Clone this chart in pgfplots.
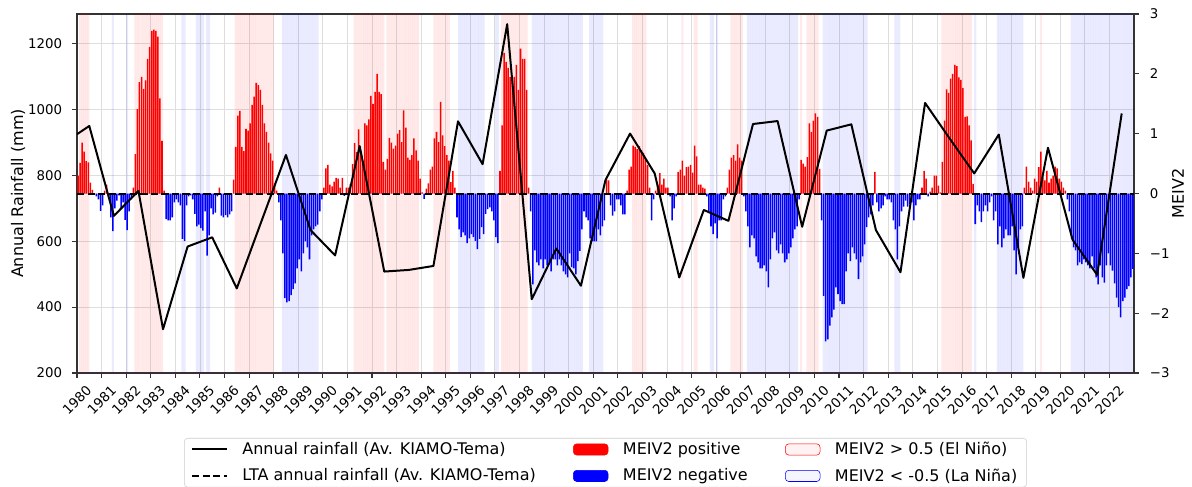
\documentclass[border=0pt]{standalone}
\usepackage{fontspec}
\setmainfont{DejaVu Sans}
\usepackage{pgfplots}
\usepackage{pgfplotstable}
\pgfplotsset{compat=1.18}

\pgfplotstableread{
year m1 m2 m3 m4 m5 m6 m7 m8 m9 m10 m11 m12
1980 0.30 0.51 0.85 0.70 0.54 0.52 0.18 0.06 -0.02 -0.05 -0.10 -0.29
1981 -0.20 0.05 0.15 -0.05 -0.40 -0.63 -0.25 -0.12 -0.03 -0.25 -0.15 -0.44
1982 -0.61 -0.30 -0.10 0.10 0.66 1.41 1.86 1.95 1.75 1.89 2.25 2.45
1983 2.72 2.74 2.72 2.62 1.59 0.88 0.05 -0.43 -0.45 -0.45 -0.40 -0.15
1984 -0.10 -0.15 -0.20 -0.76 -0.79 -0.20 -0.05 -0.03 -0.10 -0.34 -0.55 -0.52
1985 -0.58 -0.62 -0.30 -1.04 -0.70 -0.25 -0.35 -0.32 -0.05 0.10 -0.37 -0.40
1986 -0.36 -0.40 -0.35 -0.30 0.23 0.78 1.30 1.38 0.78 0.71 1.08 1.05
1987 1.17 1.48 1.62 1.85 1.81 1.73 1.48 1.17 1.03 0.85 0.67 0.55
1988 0.16 0.05 -0.15 -0.45 -1.00 -1.75 -1.82 -1.80 -1.70 -1.60 -1.50 -1.25
1989 -1.10 -1.30 -1.00 -0.80 -0.90 -1.10 -0.70 -0.60 -0.55 -0.52 -0.30 -0.10
1990 0.10 0.42 0.48 0.15 0.12 0.20 0.26 0.25 0.10 0.26 -0.04 0.10
1991 0.10 0.16 0.49 0.84 0.69 1.07 0.67 0.55 1.17 1.14 1.24 1.63
1992 1.50 1.70 2.00 1.70 1.66 0.53 0.40 0.58 0.93 0.85 0.75 0.80
1993 1.00 1.06 0.86 1.39 1.10 0.60 0.56 0.64 0.92 0.72 0.55 0.25
1994 0.02 -0.09 0.08 0.17 0.40 0.45 0.92 1.03 0.86 1.53 0.97 0.79
1995 0.64 0.55 0.19 0.38 0.10 -0.40 -0.60 -0.73 -0.65 -0.70 -0.83 -0.75
1996 -0.68 -0.73 -0.79 -0.93 -0.76 -0.56 -0.68 -0.34 -0.26 -0.23 -0.30 -0.45
1997 -0.73 -0.83 0.38 1.14 2.35 2.20 2.10 1.95 1.95 1.95 2.15 1.73
1998 2.42 2.25 2.25 1.73 0.10 -0.30 -1.52 -0.95 -1.15 -1.20 -1.10 -1.25
1999 -1.10 -1.20 -1.15 -1.30 -1.10 -1.10 -1.20 -1.10 -1.20 -1.30 -1.35 -1.40
2000 -1.00 -1.23 -1.25 -1.35 -1.13 -0.96 -0.60 -0.30 -0.40 -0.45 -0.75 -0.80
2001 -0.80 -0.80 -0.60 -0.70 -0.55 -0.45 0.23 0.22 -0.20 -0.37 -0.30 -0.10
2002 -0.10 -0.20 -0.35 -0.35 0.05 0.40 0.45 0.80 0.78 0.74 0.79 0.72
2003 0.68 0.58 0.48 0.10 -0.45 -0.10 0.05 0.15 0.34 0.15 0.25 0.10
2004 0.10 -0.05 -0.45 -0.25 -0.05 0.36 0.40 0.55 0.30 0.44 0.45 0.48
2005 0.35 0.80 0.62 0.15 0.15 0.10 0.08 -0.05 -0.30 -0.55 -0.68 -0.50
2006 -0.75 -0.45 -0.45 -0.10 -0.05 0.10 0.40 0.60 0.64 0.55 0.82 0.60
2007 0.55 -0.05 -0.30 -0.55 -0.90 -0.70 -0.75 -1.05 -1.15 -1.25 -1.25 -1.20
2008 -1.30 -1.57 -1.10 -0.75 -0.65 -0.95 -1.00 -0.85 -1.00 -1.15 -1.10 -1.00
2009 -0.90 -0.75 -0.60 -0.55 -0.10 0.56 0.50 0.45 0.61 1.17 1.03 1.22
2010 1.34 1.28 0.41 -0.45 -1.71 -2.47 -2.44 -2.21 -2.07 -1.94 -1.57 -1.68
2011 -1.80 -1.85 -1.85 -1.30 -1.00 -1.13 -0.90 -1.00 -1.10 -1.43 -1.15 -1.05
2012 -0.85 -0.56 -0.40 -0.35 -0.20 0.36 -0.15 -0.30 -0.25 -0.20 -0.05 -0.10
2013 -0.10 -0.15 -0.45 -0.60 -1.10 -0.55 -0.30 -0.22 -0.12 -0.22 -0.18 -0.15
2014 -0.45 -0.20 -0.10 -0.10 0.10 0.38 0.25 -0.05 0.03 0.10 0.30 0.30
2015 0.13 0.02 0.53 1.22 1.74 1.68 1.92 2.00 2.15 2.13 1.94 1.90
2016 1.76 1.28 1.29 1.14 0.89 0.16 -0.51 -0.20 -0.30 -0.48 -0.30 -0.20
2017 -0.30 -0.15 -0.05 -0.45 -0.30 -0.85 -0.55 -0.90 -0.75 -0.60 -0.70 -0.70
2018 -0.55 -0.95 -1.35 -0.90 -0.60 -0.55 0.10 0.45 0.20 0.10 0.05 0.25
2019 0.20 0.44 0.70 0.27 0.22 0.38 0.18 0.25 0.30 0.45 0.42 0.25
2020 0.20 0.10 0.05 -0.10 -0.30 -0.75 -0.90 -0.95 -1.20 -1.15 -1.18 -1.10
2021 -1.15 -1.20 -1.25 -1.05 -1.25 -1.40 -1.52 -1.20 -1.40 -1.49 -1.20 -1.00
2022 -1.20 -1.29 -1.50 -1.74 -1.90 -2.07 -1.80 -1.74 -1.60 -1.55 -1.40 -1.26
}\meitable

\pgfplotsset{
  common/.style={
    scale only axis, width=792.75pt, height=269.25pt,
    at={(0pt,0pt)}, anchor=south west,
    xmin=1980, xmax=2023,
    tick align=outside, major tick length=3.5pt,
    tick style={black!80, line width=0.8pt},
    axis line style={black!80, line width=0.8pt},
    /pgf/number format/1000 sep={},
    /pgf/number format/assume math mode=true,
    tick label style={font=\fontsize{10}{12}\selectfont},
  },
  lineimg/.style={legend image code/.code={\draw[black, line width=1.5pt] (0pt,0pt) -- (26pt,0pt);}},
  dashimg/.style={legend image code/.code={\draw[black, line width=1.5pt, dash pattern=on 5.5pt off 2.4pt] (0pt,0pt) -- (26pt,0pt);}},
  posimg/.style={legend image code/.code={\fill[red] (0pt,-4.2pt) rectangle (26pt,4.2pt);}},
  negimg/.style={legend image code/.code={\fill[blue] (0pt,-4.2pt) rectangle (26pt,4.2pt);}},
  ninoimg/.style={legend image code/.code={\fill[red, fill opacity=0.05] (0pt,-4.2pt) rectangle (26pt,4.2pt);}},
  ninaimg/.style={legend image code/.code={\fill[blue, fill opacity=0.04] (0pt,-4.2pt) rectangle (26pt,4.2pt);}},
}

\begin{document}
\begin{tikzpicture}
% ---- axis A: rainfall scale, grid, ENSO shading
\begin{axis}[common,
  ymin=200, ymax=1290,
  xtick={1980,1981,...,2022}, ytick={200,400,...,1200},
  xtick pos=left, ytick pos=left,
  grid=major, major grid style={black!13, line width=0.6pt},
  xticklabel style={yshift=-16.9pt, rotate=45, anchor=center},
  yticklabel style={xshift=-4.2pt},
  ylabel={Annual Rainfall (mm)},
  ylabel style={font=\fontsize{12}{14}\selectfont, at={(axis description cs:-0.0558,0.5)}, anchor=center},
]
\pgfplotsinvokeforeach{1,...,12}{
  \addplot[ybar, bar width=0.0834, bar shift=0pt, draw=none, fill=red, fill opacity=0.085, forget plot]
    table[x expr=\thisrow{year}+(#1-0.5)/12, y expr={\thisrow{m#1}>0.5 ? 2000 : 0}] {\meitable};
  \addplot[ybar, bar width=0.0834, bar shift=0pt, draw=none, fill=blue, fill opacity=0.08, forget plot]
    table[x expr=\thisrow{year}+(#1-0.5)/12, y expr={\thisrow{m#1}<-0.5 ? 2000 : 0}] {\meitable};
}
\end{axis}
% ---- axis B: MEIV2 monthly bars, right axis
\begin{axis}[common,
  ymin=-3, ymax=3,
  axis x line=none, axis y line*=right,
  ytick={-3,-2,-1,0,1,2,3}, yticklabels={−3,−2,−1,0,1,2,3},
  yticklabel style={xshift=4.9pt},
  ylabel={MEIV2},
  ylabel style={font=\fontsize{12}{14}\selectfont, at={(axis description cs:1.0416,0.5)}, anchor=center},
]
\pgfplotsinvokeforeach{1,...,12}{
  \addplot[ybar, bar width=0.062, bar shift=0pt, draw=none, fill=red, forget plot]
    table[x expr=\thisrow{year}+(#1-0.5)/12, y expr={\thisrow{m#1}>0 ? \thisrow{m#1} : 0}] {\meitable};
  \addplot[ybar, bar width=0.062, bar shift=0pt, draw=none, fill=blue, forget plot]
    table[x expr=\thisrow{year}+(#1-0.5)/12, y expr={\thisrow{m#1}<0 ? \thisrow{m#1} : 0}] {\meitable};
}
\end{axis}
% ---- axis C: rainfall lines + legend
\begin{axis}[common,
  ymin=200, ymax=1290, axis lines=none,
  legend columns=3,
  legend cell align=left,
  legend style={at={(0.5,-0.181)}, anchor=north, draw=black!20, rounded corners=2.5pt,
    font=\fontsize{12}{14.4}\selectfont, inner xsep=5pt, inner ysep=1pt, row sep=5pt,
    nodes={inner xsep=2pt, inner ysep=2pt},
    /tikz/every even column/.append style={column sep=26pt},
    /tikz/every odd column/.append style={column sep=9pt}},
]
\addplot[black, line width=1.5pt, line join=round, forget plot] coordinates {
(1980,925) (1980.5,950) (1981.5,677) (1982.5,753) (1983.5,333) (1984.5,584)
(1985.5,612) (1986.5,457) (1987.5,660) (1988.5,862) (1989.5,634) (1990.5,557)
(1991.5,889) (1992.5,508) (1993.5,513) (1994.5,525) (1995.5,964) (1996.5,834)
(1997.5,1259) (1998.5,424) (1999.5,578) (2000.5,465) (2001.5,786) (2002.5,927)
(2003.5,806) (2004.5,490) (2005.5,695) (2006.5,662) (2007.5,956) (2008.5,965)
(2009.5,644) (2010.5,936) (2011.5,955) (2012.5,634) (2013.5,506) (2014.5,1020)
(2015.5,912) (2016.5,806) (2017.5,924) (2018.5,489) (2019.5,884) (2020.5,605)
(2021.5,498) (2022.5,988)};
\addplot[black, line width=1.5pt, dash pattern=on 5.5pt off 2.4pt, forget plot] coordinates {(1980,745) (2023,745)};
\addlegendimage{lineimg}
\addlegendentry{Annual rainfall (Av. KIAMO-Tema)}
\addlegendimage{posimg}
\addlegendentry{MEIV2 positive}
\addlegendimage{ninoimg}
\addlegendentry{MEIV2 > 0.5 (El Niño)}
\addlegendimage{dashimg}
\addlegendentry{LTA annual rainfall (Av. KIAMO-Tema)}
\addlegendimage{negimg}
\addlegendentry{MEIV2 negative}
\addlegendimage{ninaimg}
\addlegendentry{MEIV2 < -0.5 (La Niña)}
\end{axis}
\pgfresetboundingbox
\path (-57.75pt,-84.75pt) rectangle (836.25pt,279.75pt);
\end{tikzpicture}
\end{document}
